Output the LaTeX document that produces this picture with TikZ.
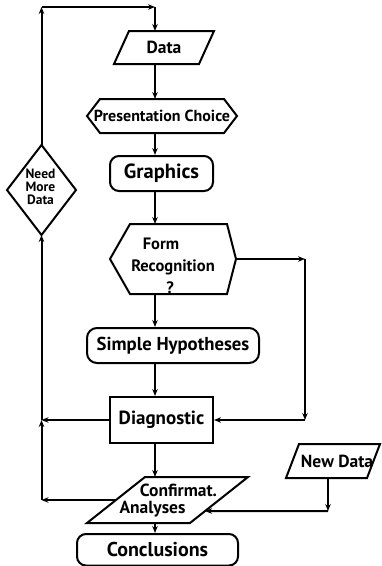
\documentclass[tikz,border=0pt]{standalone}
\usepackage{fontspec}
\setmainfont{PT Sans}
\usetikzlibrary{arrows.meta,calc}

\begin{document}
\begin{tikzpicture}[x=1pt,y=-1pt,
  line width=2pt,
  >={Stealth[length=7pt,width=5.5pt]},
  holder/.style={inner sep=0pt,outer sep=0pt},
  termbox/.style={draw,rounded corners=9pt,inner sep=0pt},
  procbox/.style={draw,inner sep=0pt},
  txt/.style={font=\fontsize{#1}{#1}\selectfont\bfseries}]
\useasboundingbox (0,0) rectangle (381,566);

% ============ main column ============
\node[holder,minimum width=100,minimum height=33,txt=17.5] (data) at (164,47.5) {Data};
\draw ($(data.north west)+(15,0)$) -- (data.north east)
  -- ($(data.south east)+(-15,0)$) -- (data.south west) -- cycle;

\node[holder,minimum width=150,minimum height=34,txt=16] (pres) at (162,116) {Presentation Choice};
\draw (pres.west) -- ($(pres.north west)+(13,0)$) -- ($(pres.north east)+(-13,0)$)
  -- (pres.east) -- ($(pres.south east)+(-13,0)$) -- ($(pres.south west)+(13,0)$) -- cycle;

\node[termbox,minimum width=103,minimum height=35,txt=20.5] (graph) at (161.5,173.5) {Graphics};

\node[holder,minimum width=126,minimum height=70] (form) at (173,259) {};
\draw (form.west) -- ($(form.north west)+(20,0)$) -- ($(form.north east)+(-9,0)$)
  -- (form.east) -- ($(form.south east)+(-9,0)$) -- ($(form.south west)+(20,0)$) -- cycle;
\node[font=\fontsize{16.5}{22}\selectfont\bfseries,align=center] (formtxt) at (173,266)
  {Form\hspace*{24pt}\\Recognition\\?\hspace*{6pt}};

\node[termbox,rounded corners=10pt,minimum width=172,minimum height=35,txt=18.7] (simple) at (173,345.5) {Simple Hypotheses};

\node[procbox,minimum width=103,minimum height=46,txt=19] (diag) at (161.5,420) {Diagnostic};

\node[holder,minimum width=161,minimum height=46] (conf) at (167.5,500) {};
\draw ($(conf.north west)+(58,0)$) coordinate (conf-nw) -- (conf.north east) coordinate (conf-ne)
  -- ($(conf.south east)+(-58,0)$) coordinate (conf-se) -- (conf.south west) coordinate (conf-sw) -- cycle;
\node[font=\fontsize{17.5}{16.6}\selectfont\bfseries,align=center] (conftxt) at (165.5,500.5)
  {\hspace*{26pt}Confirmat.\\Analyses\hspace*{26pt}};

\node[termbox,minimum width=161,minimum height=31.5,txt=20] (concl) at (157.5,549.75) {Conclusions};

% ============ side boxes ============
\node[holder,minimum width=94,minimum height=34,txt=17.5] (nd) at (333,461) {\hspace*{8pt}New Data};
\draw ($(nd.north west)+(13,0)$) -- (nd.north east)
  -- ($(nd.south east)+(-13,0)$) -- (nd.south west) -- cycle;

\node[holder,minimum width=69,minimum height=90] (need) at (41.5,190) {};
\draw (need.north) -- (need.east) -- (need.south) -- (need.west) -- cycle;
\node[font=\fontsize{13.5}{13}\selectfont\bfseries,align=center] (needtxt) at (40.5,186.5) {Need\\More\\Data};

% ============ corners ============
\coordinate (col) at (155,0);
\coordinate (lt) at (41.5,7);
\coordinate (tr) at (col |- lt);
\coordinate (rt) at (305,259);
\coordinate (rb) at (305,420);
\coordinate (lm) at (41.5,420);
\coordinate (lb) at (41.5,500);
\coordinate (ndc) at (328,511);

% ============ connectors ============
\draw[->] (need.north) -- (lt);
\draw[->] (lt) -- (tr);
\draw[->] (tr) -- (col |- data.north);
\draw[->] (col |- data.south) -- (col |- pres.north);
\draw[->] (col |- pres.south) -- (col |- graph.north);
\draw[->] (col |- graph.south) -- (col |- form.north);
\draw[->] (form.east) -- (rt);
\draw[->] (rt) -- (rb);
\draw[->] (rb) -- (diag.east);
\draw[->] (col |- form.south) -- (col |- simple.north);
\draw[->] (col |- simple.south) -- (col |- diag.north);
\draw[->] (diag.west) -- (lm);
\draw[->] (lm) -- (need.south);
\draw[->] ($(conf-sw)!0.5!(conf-nw)$) -- (lb);
\draw[->] (lb) -- (lm);
\draw[->] (col |- diag.south) -- (col |- conf.north);
\draw[->] (nd.south -| ndc) -- (ndc);
\draw[->] (ndc) -- ($(conf-ne)!0.74!(conf-se)$);
\draw[->] (col |- conf.south) -- (col |- concl.north);

\end{tikzpicture}
\end{document}
